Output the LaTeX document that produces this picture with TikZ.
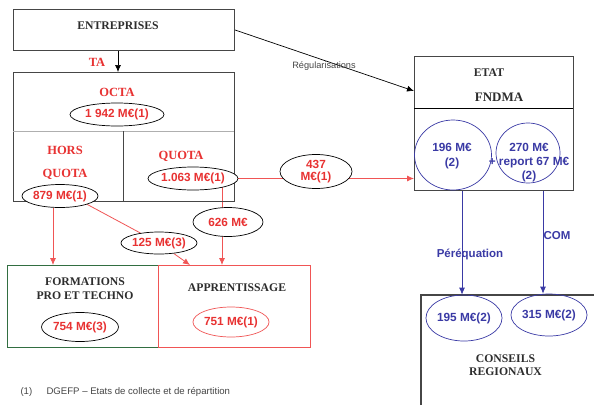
\documentclass[tikz,border=0pt]{standalone}
\usepackage{fontspec}
\setmainfont{Liberation Serif}
\setsansfont{Liberation Sans}
\usetikzlibrary{shapes.geometric,arrows.meta}
\pgfdeclarelayer{bg}
\pgfsetlayers{bg,main}
\definecolor{redtxt}{RGB}{232,50,50}
\definecolor{redln}{RGB}{240,85,85}
\definecolor{bluec}{RGB}{58,58,165}
\definecolor{boxgray}{RGB}{70,70,70}
\definecolor{divgray}{RGB}{175,175,175}
\definecolor{greenc}{RGB}{50,110,65}
\definecolor{ttlgray}{RGB}{45,45,45}
\begin{document}
\begin{tikzpicture}[x=1pt,y=-1pt,
  box/.style={draw=boxgray,line width=0.9pt,rectangle,anchor=north west,inner sep=0pt},
  ttl/.style={font=\bfseries\fontsize{11.7}{14}\selectfont,text=ttlgray,align=center},
  rhd/.style={font=\bfseries\fontsize{12.5}{14}\selectfont,text=redtxt},
  ell/.style={ellipse,draw=black,line width=0.7pt,fill=white,inner sep=0pt,
    font=\sffamily\bfseries\fontsize{11.8}{13}\selectfont,text=redtxt,align=center},
  bell/.style={ellipse,draw=bluec,line width=0.7pt,inner sep=0pt,
    font=\sffamily\bfseries\fontsize{11.8}{13.5}\selectfont,text=bluec,align=center},
  btxt/.style={font=\sffamily\bfseries\fontsize{11.5}{13}\selectfont,text=bluec},
  blkln/.style={draw=black,line width=0.7pt,-{Latex[length=7pt,width=6pt]}},
  redarr/.style={draw=redln,line width=0.8pt,-{Latex[length=7pt,width=6pt]}},
  bluarr/.style={draw=bluec,line width=0.8pt,-{Latex[length=7pt,width=6pt]}},
  note/.style={font=\sffamily\fontsize{9.6}{11}\selectfont,text=boxgray,anchor=west}
]
\useasboundingbox (0,0) rectangle (594,405);
\begin{pgfonlayer}{bg}
\fill[white] (0,0) rectangle (594,405);
\end{pgfonlayer}

% ENTREPRISES
\node[box,minimum width=221pt,minimum height=41pt] (ent) at (13,9) {};
\node[ttl] (tent) at (118,26) {ENTREPRISES};
\node[font=\bfseries\fontsize{12.5}{14}\selectfont,text=redtxt] (ta) at (97,62) {TA};

% OCTA box
\node[box,minimum width=221pt,minimum height=129pt] (octa) at (13,72) {};
\coordinate (dL) at (13,131);
\coordinate (dR) at (234,131);
\coordinate (dT) at (123,131);
\coordinate (dB) at (123,201);
\draw[divgray,line width=0.9pt] (dL) -- (dR);
\draw[boxgray,line width=0.9pt] (dT) -- (dB);
\node[rhd] (toc) at (117,92) {OCTA};
\node[ell,minimum width=94pt,minimum height=23pt] (e1942) at (117,114.5) {1 942 M€(1)};
\node[rhd] (thors) at (65,150) {HORS};
\node[rhd] (thq) at (65,174) {QUOTA};
\node[rhd] (tq) at (181,156) {QUOTA};
\node[ell,minimum width=70pt,minimum height=23pt] (e879) at (60,196) {879 M€(1)};
\node[ell,minimum width=70pt,minimum height=23pt] (e1063) at (193,178.5) {1.063 M€(1)};

% middle ellipses
\node[ell,minimum width=72pt,minimum height=34pt] (e437) at (316,171.5) {437\\[-1pt]M€(1)};
\node[ell,minimum width=70pt,minimum height=29pt] (e626) at (228,222) {626 M€};
\node[ell,minimum width=70pt,minimum height=22pt] (e125) at (159,243) {125 M€(3)};

% bottom boxes
\node[box,draw=greenc,minimum width=151pt,minimum height=82pt] (form) at (7,265) {};
\node[box,draw=redln,minimum width=152pt,minimum height=82pt] (appr) at (158,265) {};
\node[ttl] (tform) at (85,289) {FORMATIONS\\PRO ET TECHNO};
\node[ell,minimum width=77pt,minimum height=29pt] (e754) at (80,327) {754 M€(3)};
\node[ttl] (tappr) at (237,288) {APPRENTISSAGE};
\node[ell,draw=redln,minimum width=76pt,minimum height=30pt] (e751) at (231,322) {751 M€(1)};

% ETAT box
\node[box,minimum width=159pt,minimum height=134pt] (etat) at (414,56) {};
\coordinate (eL) at (414,108);
\coordinate (eR) at (573,108);
\draw[black,line width=0.9pt] (eL) -- (eR);
\node[ttl] (tetat) at (489,73) {ETAT};
\node[font=\bfseries\fontsize{13}{15}\selectfont,text=ttlgray] (tfnd) at (499,97) {FNDMA};
\node[bell,minimum width=77pt,minimum height=70pt] (c196) at (453,155) {};
\node[btxt,align=center,font=\sffamily\bfseries\fontsize{11.8}{15}\selectfont] (t196) at (452,156.5) {196 M€\\(2)};
\node[bell,minimum width=64pt,minimum height=60pt] (c270) at (528,153) {};
\node[btxt,align=center,font=\sffamily\bfseries\fontsize{11.8}{14}\selectfont] (t270) at (529,163) {270 M€\\+ report 67 M€\\(2)};

% CONSEILS REGIONAUX
\coordinate (cB) at (421,405);
\coordinate (cTL) at (421,295);
\coordinate (cTR) at (594,295);
\draw[boxgray,line width=1.1pt] (cB) -- (cTL) -- (cTR);
\node[bell,minimum width=75pt,minimum height=46pt] (e195) at (464,318) {195 M€(2)};
\node[bell,minimum width=59pt,minimum height=42pt] (e315) at (549,315) {315 M€(2)};
\node[ttl] (tcons) at (505.5,365.5) {CONSEILS\\[-1pt]REGIONAUX};
\node[btxt] (tperq) at (470,254) {Péréquation};
\node[btxt] (tcom) at (557,236) {COM};

% Régularisations
\node[font=\sffamily\fontsize{9.2}{11}\selectfont,text=boxgray] (treg) at (324,66) {Régularisations};
\coordinate (regIn) at (414,91);
\coordinate (q1) at (222,186);
\coordinate (a125) at (190,265);

\begin{pgfonlayer}{bg}
\draw[blkln] (tent |- ent.south) -- (tent |- octa.north);
\draw[blkln] (ent.east) -- (regIn);
\draw[redarr] (e1063.east) -- (e1063.east -| etat.west);
\draw[redarr] (q1) -- (q1 |- appr.north);
\draw[redarr] ([xshift=-7pt]e879.south) -- ([xshift=-7pt]e879.south |- form.north);
\draw[draw=redln,line width=0.8pt] (e879.south east) -- (e125);
\draw[redarr] (e125) -- (a125);
\draw[bluarr] ([xshift=-2pt]e195.north |- etat.south) -- ([xshift=-2pt]e195.north);
\draw[bluarr] ([xshift=-6pt]e315.north |- etat.south) -- ([xshift=-6pt]e315.north);
\end{pgfonlayer}

% footnote
\node[note] (fn1) at (17,392) {(1)};
\node[note] (fn2) at (43,392) {DGEFP – Etats de collecte et de répartition};
\end{tikzpicture}
\end{document}
